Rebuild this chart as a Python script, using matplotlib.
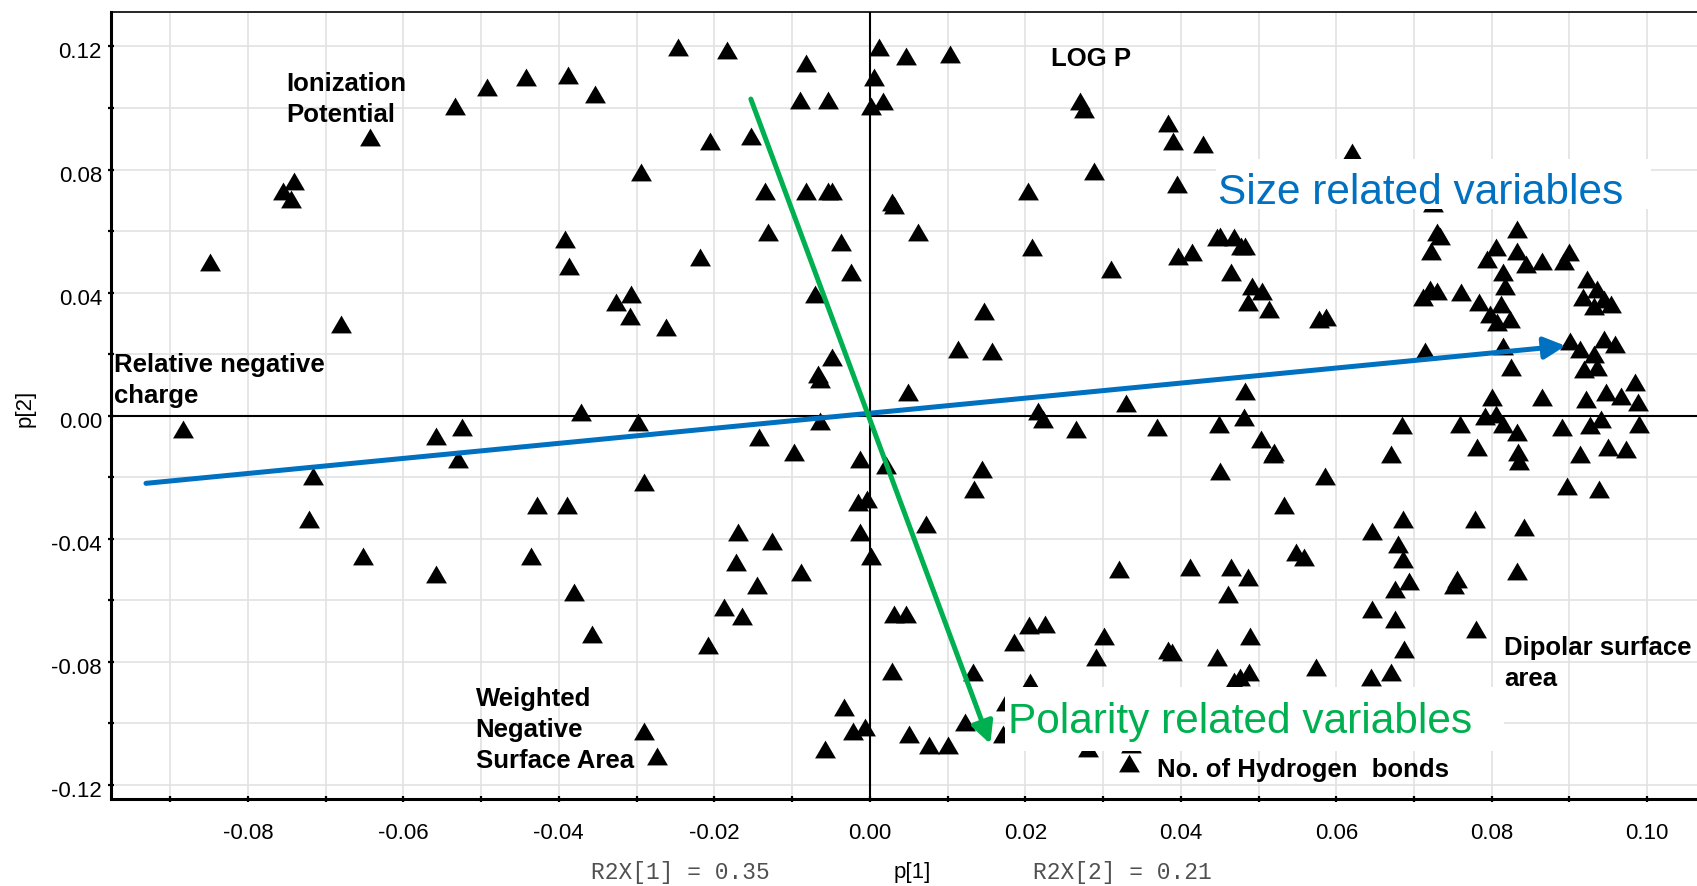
import numpy as np
import matplotlib.pyplot as plt
import matplotlib.transforms as mtransforms
from matplotlib.patches import Rectangle

plt.rcParams['font.family'] = ['Liberation Sans', 'DejaVu Sans']
plt.rcParams['axes.unicode_minus'] = False

# loadings: p[1] (x) and p[2] (y)
p1 = [
    -0.0849, -0.0755, -0.0740, -0.0744, -0.0643, -0.0680, -0.0533, -0.0492, -0.0442, -0.0388,
    -0.0354, -0.0392, -0.0387, -0.0884, -0.0558, -0.0525, -0.0530, -0.0716, -0.0721, -0.0652,
    -0.0558, -0.0428, -0.0389, -0.0436, -0.0380, -0.0357,
    -0.0247, -0.0184, -0.0082, -0.0090, -0.0054, 0.0012, 0.0046, 0.0103, 0.0005, 0.0017,
    0.0001, -0.0205, -0.0153, -0.0294, -0.0135, -0.0082, -0.0054, -0.0048, 0.0029, 0.0031,
    0.0062, -0.0131, -0.0037, -0.0218, -0.0024, -0.0326, -0.0307, -0.0309, -0.0262, -0.0071,
    -0.0049, -0.0066, -0.0064, -0.0371, -0.0298, -0.0064, -0.0143, 0.0049, 0.0203, 0.0209,
    0.0147, 0.0114, 0.0157, 0.0270, 0.0276, 0.0288, 0.0310, 0.0383, 0.0390, 0.0395,
    0.0396, 0.0216, 0.0223, 0.0265, 0.0329, 0.0370,
    -0.0098, -0.0012, 0.0021, -0.0290, 0.0144, 0.0134, -0.0015, -0.0003, 0.0072, -0.0013,
    0.0002, -0.0170, -0.0126, -0.0172, -0.0145, -0.0089, -0.0188, -0.0164, -0.0208, 0.0031,
    0.0046, 0.0029, 0.0133, 0.0186, 0.0205, 0.0226, 0.0301, 0.0291, 0.0321, 0.0389,
    0.0383, 0.0206, 0.0175, -0.0033, -0.0022, -0.0006, -0.0057, 0.0050, 0.0076, 0.0100,
    0.0123, 0.0171, -0.0290, -0.0274, 0.0281, 0.0336, 0.0333,
    0.0428, 0.0620, 0.0450, 0.0446, 0.0468, 0.0478, 0.0482, 0.0415, 0.0465, 0.0491,
    0.0504, 0.0487, 0.0513, 0.0578, 0.0587, 0.0730, 0.0733, 0.0722, 0.0721, 0.0729,
    0.0711, 0.0760, 0.0783, 0.0794, 0.0806, 0.0833, 0.0832, 0.0844, 0.0864, 0.0815,
    0.0817, 0.0798, 0.0812, 0.0823, 0.0807, 0.0893, 0.0899, 0.0922, 0.0935, 0.0917,
    0.0931, 0.0944, 0.0953, 0.0901, 0.0913, 0.0931, 0.0944, 0.0958, 0.0919, 0.0935,
    0.0984, 0.0988, 0.0947, 0.0966, 0.0921, 0.0864, 0.0825, 0.0814, 0.0714, 0.0800,
    0.0791, 0.0805, 0.0814, 0.0832, 0.0890, 0.0927, 0.0940, 0.0989, 0.0759, 0.0684,
    0.0483, 0.0481, 0.0449, 0.0503, 0.0725,
    0.0518, 0.0520, 0.0450, 0.0585, 0.0533, 0.0671, 0.0781, 0.0834, 0.0835, 0.0914,
    0.0949, 0.0973, 0.0897, 0.0938, 0.0646, 0.0686, 0.0679, 0.0686, 0.0693, 0.0675,
    0.0778, 0.0841, 0.0755, 0.0752, 0.0833, 0.0548, 0.0558, 0.0412, 0.0465, 0.0487,
    0.0461, 0.0646, 0.0676, 0.0780, 0.0489, 0.0687, 0.0446, 0.0488, 0.0476, 0.0468,
    0.0574, 0.0645, 0.0671,
]
p2 = [
    0.0498, 0.0731, 0.0764, 0.0704, 0.0905, 0.0298, 0.1007, 0.1067, 0.1100, 0.1107,
    0.1045, 0.0574, 0.0488, -0.0043, -0.0065, -0.0038, -0.0141, -0.0195, -0.0336, -0.0455,
    -0.0515, -0.0292, -0.0292, -0.0455, -0.0574, -0.0709,
    0.1197, 0.1188, 0.1145, 0.1027, 0.1027, 0.1197, 0.1170, 0.1175, 0.1100, 0.1024,
    0.1007, 0.0894, 0.0910, 0.0791, 0.0731, 0.0731, 0.0731, 0.0731, 0.0693, 0.0685,
    0.0596, 0.0598, 0.0563, 0.0515, 0.0466, 0.0368, 0.0395, 0.0325, 0.0287, 0.0395,
    0.0190, 0.0135, 0.0119, 0.0011, -0.0020, -0.0016, -0.0070, 0.0076, 0.0731, 0.0547,
    0.0341, 0.0217, 0.0211, 0.1024, 0.0997, 0.0796, 0.0477, 0.0951, 0.0894, 0.0753,
    0.0520, 0.0016, -0.0011, -0.0043, 0.0041, -0.0038,
    -0.0119, -0.0141, -0.0162, -0.0217, -0.0173, -0.0238, -0.0282, -0.0271, -0.0352, -0.0379,
    -0.0455, -0.0379, -0.0406, -0.0477, -0.0552, -0.0507, -0.0623, -0.0650, -0.0745, -0.0644,
    -0.0644, -0.0829, -0.0834, -0.0737, -0.0682, -0.0677, -0.0715, -0.0785, -0.0498, -0.0769,
    -0.0762, -0.0866, -0.0932, -0.0948, -0.1024, -0.1013, -0.1083, -0.1035, -0.1072, -0.1072,
    -0.0997, -0.1035, -0.1024, -0.1105, -0.1080, -0.1067, -0.1129,
    0.0883, 0.0856, 0.0585, 0.0580, 0.0580, 0.0552, 0.0552, 0.0531, 0.0466, 0.0422,
    0.0406, 0.0368, 0.0347, 0.0314, 0.0320, 0.0596, 0.0585, 0.0536, 0.0412, 0.0406,
    0.0385, 0.0401, 0.0368, 0.0509, 0.0547, 0.0607, 0.0536, 0.0493, 0.0504, 0.0466,
    0.0422, 0.0330, 0.0363, 0.0314, 0.0303, 0.0504, 0.0531, 0.0444, 0.0412, 0.0385,
    0.0357, 0.0379, 0.0363, 0.0244, 0.0217, 0.0200, 0.0249, 0.0233, 0.0152, 0.0157,
    0.0108, 0.0043, 0.0076, 0.0065, 0.0054, 0.0060, 0.0157, 0.0227, 0.0211, 0.0060,
    0.0000, 0.0005, -0.0027, -0.0054, -0.0038, -0.0032, -0.0011, -0.0027, -0.0027, -0.0032,
    0.0081, -0.0005, -0.0027, -0.0076, 0.0691,
    -0.0124, -0.0119, -0.0179, -0.0195, -0.0292, -0.0124, -0.0103, -0.0119, -0.0146, -0.0124,
    -0.0103, -0.0108, -0.0228, -0.0238, -0.0374, -0.0336, -0.0417, -0.0466, -0.0536, -0.0563,
    -0.0336, -0.0363, -0.0531, -0.0552, -0.0504, -0.0444, -0.0460, -0.0493, -0.0493, -0.0525,
    -0.0579, -0.0628, -0.0661, -0.0693, -0.0715, -0.0758, -0.0785, -0.0834, -0.0850, -0.0861,
    -0.0818, -0.0850, -0.0834,
]

# direction arrows (start, end) in loading units
size_arrow = [(-0.0931, -0.0220), (0.0895, 0.0227)]
polarity_arrow = [(-0.0153, 0.1029), (0.0155, -0.1067)]

fig = plt.figure(figsize=(16.97, 8.87), dpi=100)
ax = fig.add_axes([111 / 1697, 1 - 800 / 887, 1 - 111 / 1697, (800 - 13.3) / 887])
ax.set_xlim(-0.0976, 0.1064)
ax.set_ylim(-0.1246, 0.1311)

ax.set_xticks(np.arange(-0.08, 0.101, 0.02))
ax.set_xticks(np.arange(-0.09, 0.101, 0.02), minor=True)
ax.set_yticks(np.arange(-0.12, 0.121, 0.04))
ax.set_yticks(np.arange(-0.10, 0.101, 0.04), minor=True)
ax.xaxis.set_major_formatter(plt.FormatStrFormatter('%.2f'))
ax.yaxis.set_major_formatter(plt.FormatStrFormatter('%.2f'))
ax.tick_params(which='both', direction='inout', length=5, width=1.6, labelsize=16)
ax.tick_params(axis='x', which='both', pad=14)
ax.tick_params(axis='y', which='both', pad=4)
ax.grid(True, which='both', color='#e2e2e2', lw=1.2, zorder=0)
ax.set_axisbelow(True)

# y labels sit a little below their ticks in the original
shift = mtransforms.ScaledTranslation(0, -3 / 100, fig.dpi_scale_trans)
for lbl in ax.get_yticklabels():
    lbl.set_transform(lbl.get_transform() + shift)

ax.spines['left'].set_linewidth(2.2)
ax.spines['bottom'].set_linewidth(2.2)
ax.spines['top'].set_linewidth(1.2)
ax.spines['right'].set_visible(False)

ax.axhline(0, color='black', lw=1.5, zorder=1)
ax.axvline(0, color='black', lw=1.5, zorder=1)

tri = [(-1, -0.857), (1, -0.857), (0, 0.857)]
ax.scatter(p1, p2, marker=tri, s=15 ** 2, color='black', linewidths=0, zorder=3)

for (x0, y0), (x1, y1), col in [(size_arrow[0], size_arrow[1], '#0070c0'),
                                  (polarity_arrow[0], polarity_arrow[1], '#00b050')]:
    ax.annotate('', xy=(x1, y1), xytext=(x0, y0), zorder=5,
                arrowprops=dict(arrowstyle='-|>,head_length=0.65,head_width=0.33',
                                mutation_scale=20, color=col, lw=3.6,
                                shrinkA=0, shrinkB=0))

# white boxes behind the two big captions
ax.add_patch(Rectangle((0.0445, 0.0672), 0.0560, 0.0162, facecolor='white',
                       edgecolor='none', zorder=4))
ax.add_patch(Rectangle((0.0174, -0.1089), 0.0642, 0.0206, facecolor='white',
                       edgecolor='none', zorder=4))
ax.text(0.0448, 0.0727, 'Size related variables', color='#0070c0', fontsize=30.5,
        va='center', ha='left', zorder=6)
ax.text(0.0178, -0.0992, 'Polarity related variables', color='#00b050', fontsize=30.5,
        va='center', ha='left', zorder=6)

bold = dict(fontsize=18.5, fontweight='bold', ha='left', va='top', zorder=6,
            linespacing=1.38)
ax.text(-0.0750, 0.1120, 'Ionization\nPotential', **bold)
ax.text(0.0233, 0.1200, 'LOG P', **bold)
ax.text(-0.0972, 0.0206, 'Relative negative\ncharge', **bold)
ax.text(-0.0507, -0.0878, 'Weighted\nNegative\nSurface Area', **bold)
ax.text(0.0816, -0.0713, 'Dipolar surface\narea', **bold)
ax.text(0.0369, -0.1108, 'No. of Hydrogen  bonds', **bold)

fig.text(25 / 1697, 1 - 408 / 887, 'p[2]', rotation=90, fontsize=16, ha='center', va='center')
fig.text(912 / 1697, 1 - 873 / 887, 'p[1]', fontsize=16, ha='center', va='center')
fig.text(591 / 1697, 1 - 873 / 887, 'R2X[1] = 0.35', family='Liberation Mono',
         fontsize=16.5, color='#505050', ha='left', va='center')
fig.text(1033 / 1697, 1 - 873 / 887, 'R2X[2] = 0.21', family='Liberation Mono',
         fontsize=16.5, color='#505050', ha='left', va='center')

fig.savefig('out.png', dpi=100, facecolor='white')
